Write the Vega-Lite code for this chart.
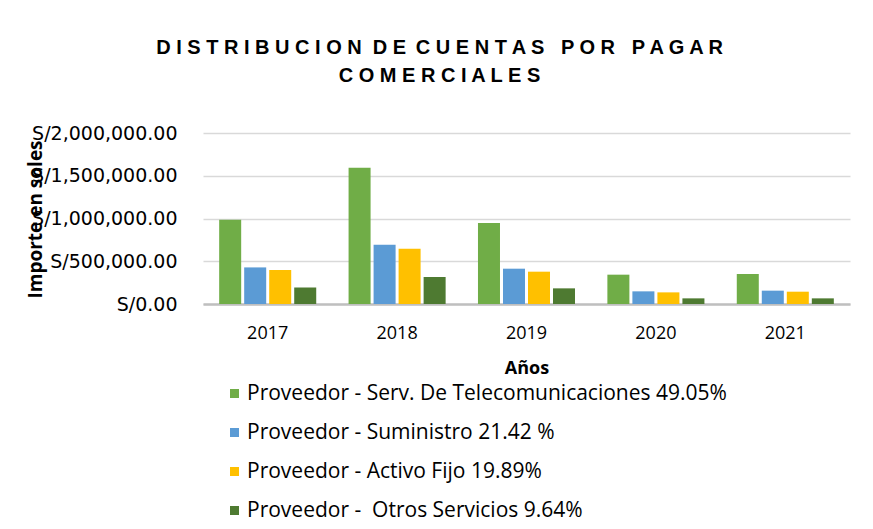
{
  "$schema": "https://vega.github.io/schema/vega-lite/v6.json",
  "width": 647,
  "height": 171,
  "autosize": {"type": "none"},
  "padding": {"left": 203, "top": 133, "right": 23, "bottom": 225},
  "background": "white",
  "title": {
    "text": ["D I S T R I B U C I O N\u00a0 D E \u2009C U E N T A S\u00a0 \u00a0P O R\u00a0 \u00a0P A G A R", "C O M E R C I A L E S"],
    "anchor": "middle",
    "dx": -87,
    "offset": 38,
    "font": "Liberation Sans",
    "fontSize": 20,
    "fontWeight": "bold",
    "color": "#000000",
    "lineHeight": 28
  },
  "data": {
    "values": [
      {"anio": "2017", "proveedor": "Proveedor - Serv. De Telecomunicaciones 49.05%", "importe": 986000},
      {"anio": "2017", "proveedor": "Proveedor - Suministro 21.42 %", "importe": 428000},
      {"anio": "2017", "proveedor": "Proveedor - Activo Fijo 19.89%", "importe": 398000},
      {"anio": "2017", "proveedor": "Proveedor -\u00a0 Otros Servicios 9.64%", "importe": 194000},
      {"anio": "2018", "proveedor": "Proveedor - Serv. De Telecomunicaciones 49.05%", "importe": 1594000},
      {"anio": "2018", "proveedor": "Proveedor - Suministro 21.42 %", "importe": 694000},
      {"anio": "2018", "proveedor": "Proveedor - Activo Fijo 19.89%", "importe": 647000},
      {"anio": "2018", "proveedor": "Proveedor -\u00a0 Otros Servicios 9.64%", "importe": 316000},
      {"anio": "2019", "proveedor": "Proveedor - Serv. De Telecomunicaciones 49.05%", "importe": 947000},
      {"anio": "2019", "proveedor": "Proveedor - Suministro 21.42 %", "importe": 413000},
      {"anio": "2019", "proveedor": "Proveedor - Activo Fijo 19.89%", "importe": 378000},
      {"anio": "2019", "proveedor": "Proveedor -\u00a0 Otros Servicios 9.64%", "importe": 183000},
      {"anio": "2020", "proveedor": "Proveedor - Serv. De Telecomunicaciones 49.05%", "importe": 343000},
      {"anio": "2020", "proveedor": "Proveedor - Suministro 21.42 %", "importe": 148000},
      {"anio": "2020", "proveedor": "Proveedor - Activo Fijo 19.89%", "importe": 136000},
      {"anio": "2020", "proveedor": "Proveedor -\u00a0 Otros Servicios 9.64%", "importe": 66000},
      {"anio": "2021", "proveedor": "Proveedor - Serv. De Telecomunicaciones 49.05%", "importe": 351000},
      {"anio": "2021", "proveedor": "Proveedor - Suministro 21.42 %", "importe": 156000},
      {"anio": "2021", "proveedor": "Proveedor - Activo Fijo 19.89%", "importe": 144000},
      {"anio": "2021", "proveedor": "Proveedor -\u00a0 Otros Servicios 9.64%", "importe": 66000}
    ]
  },
  "mark": {"type": "bar"},
  "encoding": {
    "x": {
      "field": "anio",
      "type": "nominal",
      "scale": {"paddingInner": 0.25, "paddingOuter": 0.125},
      "axis": {
        "title": "Años",
        "labelAngle": 0,
        "ticks": false,
        "domainColor": "#bfbfbf",
        "domainWidth": 2.5,
        "labelPadding": 20,
        "labelFontSize": 18,
        "labelColor": "#000000",
        "titleFontSize": 18,
        "titleFontWeight": "bold",
        "titleColor": "#000000",
        "titleY": 64,
        "titleBaseline": "middle"
      }
    },
    "xOffset": {
      "field": "proveedor",
      "type": "nominal",
      "sort": ["Proveedor - Serv. De Telecomunicaciones 49.05%", "Proveedor - Suministro 21.42 %", "Proveedor - Activo Fijo 19.89%", "Proveedor -\u00a0 Otros Servicios 9.64%"],
      "scale": {"paddingInner": 0.12}
    },
    "y": {
      "field": "importe",
      "type": "quantitative",
      "scale": {"domain": [0, 2000000]},
      "axis": {
        "title": "Importe en soles",
        "values": [0, 500000, 1000000, 1500000, 2000000],
        "labelExpr": "'S/' + format(datum.value, ',.2f')",
        "domain": false,
        "ticks": false,
        "gridColor": "#d9d9d9",
        "gridWidth": 1.5,
        "labelPadding": 26,
        "labelFont": "DejaVu Sans",
        "labelFontSize": 19,
        "labelColor": "#000000",
        "titleFontSize": 19,
        "titleFontWeight": "bold",
        "titleColor": "#000000",
        "titleX": -168,
        "titleY": 86,
        "titleAngle": 270,
        "titleAlign": "center",
        "titleBaseline": "middle"
      }
    },
    "color": {
      "field": "proveedor",
      "type": "nominal",
      "scale": {
        "domain": ["Proveedor - Serv. De Telecomunicaciones 49.05%", "Proveedor - Suministro 21.42 %", "Proveedor - Activo Fijo 19.89%", "Proveedor -\u00a0 Otros Servicios 9.64%"],
        "range": ["#70AD47", "#5B9BD5", "#FFC000", "#4E7A31"]
      },
      "legend": {
        "title": null,
        "orient": "none",
        "legendX": 21,
        "legendY": 250,
        "direction": "vertical",
        "symbolType": "square",
        "symbolSize": 81,
        "symbolStrokeWidth": 0,
        "labelFontSize": 21,
        "labelColor": "#000000",
        "labelOffset": 2,
        "rowPadding": 17,
        "labelLimit": 700
      }
    }
  },
  "config": {
    "font": "Open Sans",
    "view": {"stroke": null}
  }
}
